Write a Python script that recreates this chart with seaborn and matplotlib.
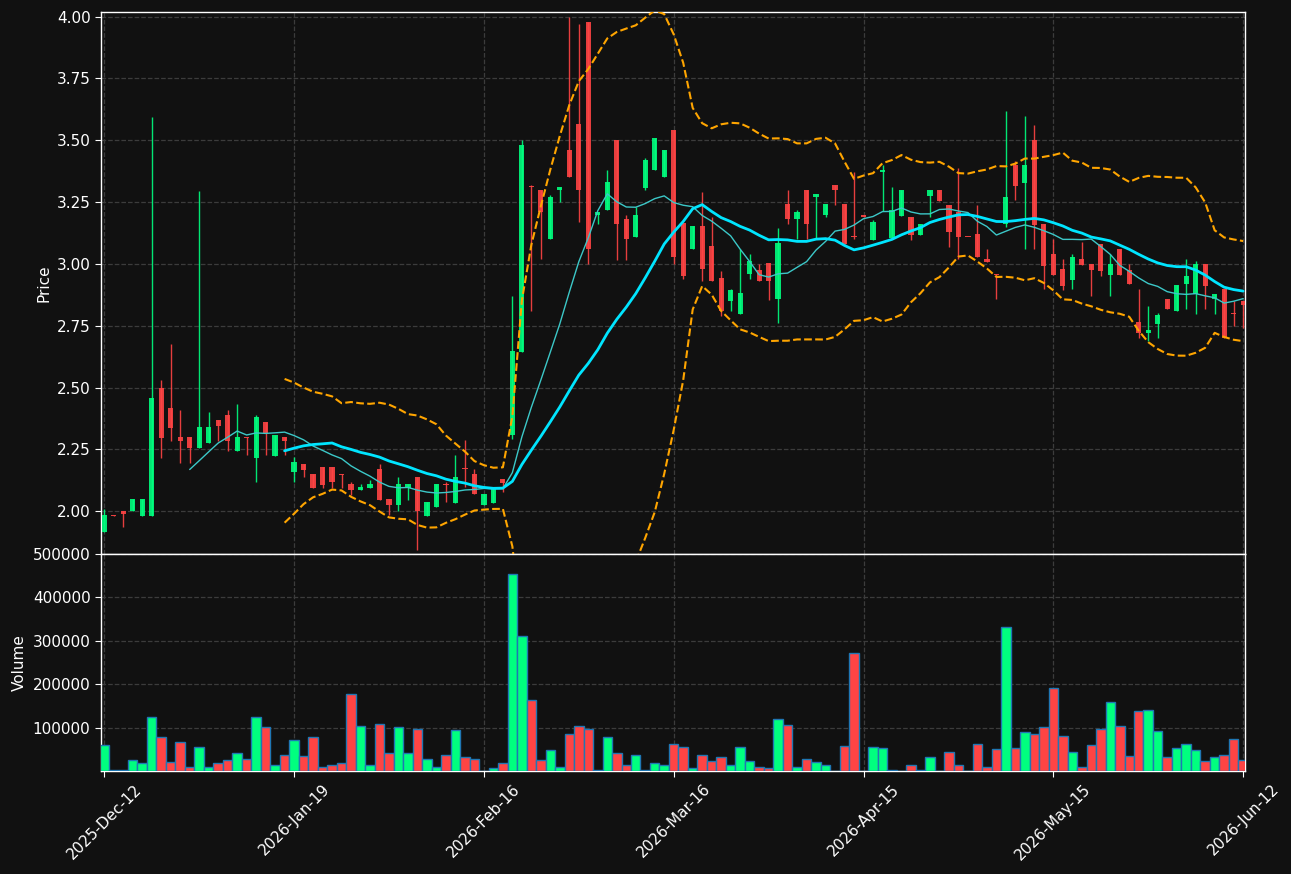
import matplotlib
matplotlib.use("Agg")
import matplotlib.pyplot as plt
import numpy as np
import pandas as pd
import seaborn as sns

# daily OHLC (index = trading bar)
opens = [1.918, 1.982, 2.000, 1.999, 1.982, 1.982, 2.497, 2.417, 2.300, 2.300,
         2.257, 2.277, 2.368, 2.388, 2.245, 2.300, 2.216, 2.360, 2.224, 2.302,
         2.157, 2.190, 2.150, 2.180, 2.180, 2.150, 2.110, 2.087, 2.096, 2.172,
         2.050, 2.027, 2.096, 2.140, 1.982, 2.019, 2.110, 2.035, 2.172, 2.150,
         2.026, 2.035, 2.132, 2.308, 2.645, 3.312, 3.300, 3.099, 3.298, 3.462,
         3.565, 3.980, 3.199, 3.217, 3.500, 3.182, 3.108, 3.309, 3.379, 3.350,
         3.543, 3.164, 3.060, 3.152, 3.071, 2.942, 2.850, 2.797, 2.958, 2.974,
         3.003, 2.859, 3.241, 3.181, 3.301, 3.270, 3.196, 3.321, 3.241, 3.110,
         3.199, 3.098, 3.370, 3.106, 3.195, 3.191, 3.118, 3.276, 3.300, 3.239,
         3.212, 3.110, 3.122, 3.021, 2.958, 3.160, 3.400, 3.329, 3.500, 3.163,
         3.042, 2.980, 2.937, 3.020, 3.000, 3.082, 2.957, 3.062, 2.974, 2.765,
         2.720, 2.759, 2.860, 2.810, 2.917, 2.879, 3.000, 2.859, 2.899, 2.800,
         2.852]
highs = [2.008, 1.983, 2.000, 2.050, 2.050, 3.594, 2.530, 2.677, 2.410, 2.300,
         3.296, 2.400, 2.368, 2.409, 2.435, 2.300, 2.388, 2.360, 2.308, 2.302,
         2.218, 2.190, 2.150, 2.180, 2.180, 2.150, 2.120, 2.110, 2.127, 2.190,
         2.050, 2.138, 2.110, 2.140, 2.038, 2.111, 2.120, 2.228, 2.290, 2.172,
         2.069, 2.092, 2.132, 2.872, 3.500, 3.319, 3.300, 3.280, 3.312, 4.000,
         3.972, 3.980, 3.211, 3.380, 3.500, 3.200, 3.231, 3.430, 3.511, 3.461,
         3.543, 3.164, 3.152, 3.293, 3.190, 2.972, 2.900, 3.059, 3.040, 3.000,
         3.003, 3.144, 3.301, 3.220, 3.301, 3.281, 3.241, 3.321, 3.241, 3.372,
         3.199, 3.179, 3.400, 3.310, 3.300, 3.191, 3.163, 3.300, 3.300, 3.239,
         3.387, 3.110, 3.239, 3.060, 2.958, 3.617, 3.418, 3.597, 3.560, 3.163,
         3.101, 3.020, 3.042, 3.089, 3.000, 3.082, 3.042, 3.062, 3.000, 2.899,
         2.832, 2.800, 2.860, 2.913, 3.020, 3.010, 3.000, 2.879, 2.899, 2.850,
         2.852]
lows = [1.918, 1.979, 1.938, 1.999, 1.982, 1.982, 2.216, 2.285, 2.196, 2.196,
        2.257, 2.277, 2.284, 2.245, 2.245, 2.226, 2.117, 2.226, 2.224, 2.226,
        2.117, 2.137, 2.096, 2.096, 2.096, 2.096, 2.066, 2.087, 2.096, 2.047,
        1.985, 1.999, 2.047, 1.845, 1.982, 2.019, 2.037, 2.035, 2.100, 2.068,
        2.026, 2.035, 2.078, 2.291, 2.645, 2.809, 3.021, 3.099, 3.250, 3.350,
        3.170, 3.000, 3.160, 3.217, 3.018, 3.018, 3.108, 3.298, 3.379, 3.350,
        3.000, 2.939, 3.060, 2.931, 2.931, 2.790, 2.810, 2.797, 2.940, 2.931,
        2.853, 2.763, 3.163, 3.102, 3.100, 3.106, 3.190, 3.240, 3.079, 3.100,
        3.188, 3.098, 3.216, 3.106, 3.195, 3.098, 3.118, 3.188, 3.255, 3.067,
        3.020, 3.108, 3.027, 3.007, 2.859, 3.149, 3.258, 3.060, 3.060, 2.900,
        2.957, 2.896, 2.899, 2.997, 2.870, 2.950, 2.870, 2.957, 2.917, 2.700,
        2.688, 2.702, 2.816, 2.810, 2.819, 2.798, 2.819, 2.798, 2.702, 2.750,
        2.742]
closes = [1.985, 1.980, 1.990, 2.050, 2.050, 2.457, 2.297, 2.337, 2.285, 2.257,
          2.340, 2.340, 2.345, 2.285, 2.300, 2.298, 2.380, 2.318, 2.308, 2.286,
          2.200, 2.168, 2.096, 2.107, 2.117, 2.148, 2.087, 2.099, 2.110, 2.047,
          2.027, 2.110, 2.110, 1.999, 2.038, 2.111, 2.108, 2.140, 2.170, 2.068,
          2.069, 2.092, 2.116, 2.650, 3.482, 3.310, 3.209, 3.272, 3.312, 3.350,
          3.298, 3.060, 3.211, 3.333, 3.160, 3.099, 3.199, 3.421, 3.511, 3.461,
          3.028, 2.952, 3.152, 2.978, 2.931, 2.810, 2.893, 2.882, 3.010, 2.931,
          2.931, 3.083, 3.181, 3.212, 3.160, 3.281, 3.241, 3.298, 3.079, 3.108,
          3.188, 3.171, 3.380, 3.219, 3.300, 3.118, 3.163, 3.300, 3.255, 3.128,
          3.108, 3.108, 3.027, 3.007, 2.956, 3.272, 3.317, 3.400, 3.159, 2.990,
          2.957, 2.909, 3.028, 2.997, 2.977, 2.970, 3.000, 2.957, 2.917, 2.722,
          2.731, 2.793, 2.816, 2.913, 2.951, 3.001, 2.910, 2.879, 2.702, 2.797,
          2.836]
volumes = [59000, 3000, 3000, 25000, 18000, 124000, 78000, 20000, 66000, 10000,
           55000, 10000, 18000, 25000, 41000, 27000, 124000, 101000, 15000, 38000,
           71000, 34000, 78000, 10000, 13000, 18000, 177000, 103000, 15000, 108000,
           41000, 101000, 41000, 98000, 27000, 10000, 36000, 94000, 32000, 27000,
           0, 6000, 18000, 454000, 311000, 163000, 25000, 48000, 10000, 85000,
           103000, 98000, 3000, 78000, 41000, 13000, 36000, 3000, 18000, 15000,
           62000, 55000, 8000, 38000, 22000, 32000, 13000, 55000, 22000, 10000,
           8000, 121000, 105000, 10000, 27000, 20000, 15000, 1000, 57000, 271000,
           0, 55000, 52000, 3000, 1000, 13000, 3000, 32000, 1000, 43000,
           15000, 1000, 62000, 10000, 50000, 331000, 52000, 89000, 85000, 101000,
           191000, 80000, 45000, 10000, 59000, 98000, 158000, 103000, 34000, 138000,
           140000, 92000, 32000, 52000, 62000, 48000, 22000, 32000, 36000, 73000,
           25000]

tick_pos = [0, 20, 40, 60, 80, 100, 120]
tick_labels = ["2025-Dec-12", "2026-Jan-19", "2026-Feb-16", "2026-Mar-16",
               "2026-Apr-15", "2026-May-15", "2026-Jun-12"]

df = pd.DataFrame({"open": opens, "high": highs, "low": lows,
                   "close": closes, "volume": volumes})
df["idx"] = np.arange(len(df))
df["ma10"] = df["close"].rolling(10).mean()
df["ma20"] = df["close"].rolling(20).mean()
std20 = df["close"].rolling(20).std()
df["bb_up"] = df["ma20"] + 2 * std20
df["bb_lo"] = df["ma20"] - 2 * std20

UP, DOWN = "#00ff7f", "#ff4444"
BG = "#111111"
colors = np.where(df["close"] >= df["open"], UP, DOWN)

sns.set_style("dark", {"axes.facecolor": BG, "figure.facecolor": BG,
                       "axes.edgecolor": "white", "grid.color": "#3c3c3c",
                       "text.color": "white", "xtick.color": "white",
                       "ytick.color": "white", "axes.labelcolor": "white"})
plt.rcParams["font.family"] = ["DejaVu Sans"]

fig = plt.figure(figsize=(12.91, 8.74), dpi=100, facecolor=BG)
ax = fig.add_axes([0.0782, 0.3661, 0.8862, 0.6202])
axv = fig.add_axes([0.0782, 0.1178, 0.8862, 0.2483], sharex=ax)

# candles
body = (df["close"] - df["open"]).abs().clip(lower=0.004)
bottom = df[["open", "close"]].min(axis=1)
ax.vlines(df["idx"], df["low"], df["high"], colors=colors, lw=1, alpha=0.9, zorder=2)
ax.bar(df["idx"], body, bottom=bottom, width=0.55, color=colors, alpha=0.9,
       linewidth=0, zorder=3)

# moving averages and bands
sns.lineplot(data=df, x="idx", y="ma10", ax=ax, color="#3cc8c8", lw=1, zorder=4)
sns.lineplot(data=df, x="idx", y="ma20", ax=ax, color="#00e5ff", lw=2, zorder=4)
sns.lineplot(data=df, x="idx", y="bb_up", ax=ax, color="orange", lw=1.5, ls="--", zorder=4)
sns.lineplot(data=df, x="idx", y="bb_lo", ax=ax, color="orange", lw=1.5, ls="--", zorder=4)

ax.set_ylim(1.827, 4.019)
ax.set_yticks(np.arange(2.0, 4.01, 0.25))
ax.yaxis.set_major_formatter(matplotlib.ticker.FormatStrFormatter("%.2f"))
ax.set_ylabel("Price", fontsize=11)
ax.set_xlabel("")
ax.tick_params(axis="x", labelbottom=False)

# volume
axv.bar(df["idx"], df["volume"], width=1.0, color=colors, edgecolor="#1f77b4",
        linewidth=1, zorder=3)
axv.set_ylim(0, 500000)
axv.set_yticks([100000, 200000, 300000, 400000, 500000])
axv.yaxis.set_major_formatter(matplotlib.ticker.FormatStrFormatter("%d"))
axv.set_ylabel("Volume", fontsize=11)

axv.set_xlim(-0.35, 120.2)
axv.set_xticks(tick_pos)
axv.set_xticklabels(tick_labels, rotation=45, fontsize=11)

for a in (ax, axv):
    a.grid(True, ls="--", lw=0.9, color="#3c3c3c")
    a.set_axisbelow(True)
    a.tick_params(axis="both", labelsize=11, length=4, direction="out",
                  left=True, bottom=True)
    for s in a.spines.values():
        s.set_color("white")
        s.set_linewidth(1)

fig.savefig("out.png", dpi=100, facecolor=BG)
